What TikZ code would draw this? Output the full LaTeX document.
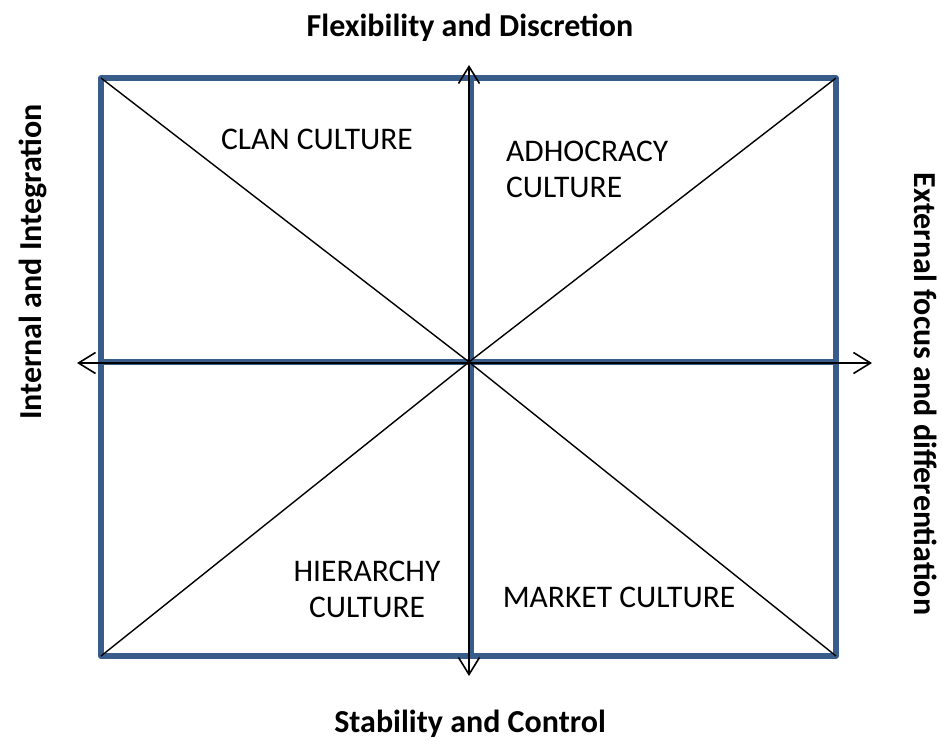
\documentclass[tikz,border=0pt]{standalone}
\usepackage{fontspec}
\setmainfont{Carlito}
\usetikzlibrary{arrows.meta}
\definecolor{boxblue}{HTML}{385D8A}
\begin{document}
\begin{tikzpicture}[x=1pt,y=-1pt,
  frame/.style={draw=boxblue,line width=5.5pt,line cap=rect,line join=round},
  axis/.style={draw=black,line width=2pt,{Straight Barb[length=17pt,width=21pt,line width=1.6pt]}-{Straight Barb[length=17pt,width=21pt,line width=1.6pt]}},
  diag/.style={draw=black,line width=1.4pt},
  qlabel/.style={font=\fontsize{31.5}{36}\selectfont,inner sep=0pt},
  alabel/.style={font=\fontsize{32}{36}\selectfont\bfseries,inner sep=0pt,anchor=base}]
\useasboundingbox (0,0) rectangle (942,740);
\coordinate (tl) at (101,78);
\coordinate (tr) at (836,78);
\coordinate (bl) at (101,656);
\coordinate (br) at (836,656);
\coordinate (c) at (469,362);
\coordinate (vt) at (471,78);
\coordinate (vb) at (471,656);
\coordinate (hl) at (101,362);
\coordinate (hr) at (836,362);
\coordinate (at) at (469,65);
\coordinate (ab) at (469,676);
\coordinate (al) at (77,363);
\coordinate (ar) at (872,363);
\draw[frame] (tl) rectangle (br);
\draw[frame] (vt) -- (vb);
\draw[frame] (hl) -- (hr);
\draw[diag] (tl) -- (c) -- (br);
\draw[diag] (tr) -- (c) -- (bl);
\draw[axis] (ab) -- (at);
\draw[axis] (al) -- (ar);
\node[qlabel,anchor=base] (clan) at (317,149) {CLAN CULTURE};
\node[qlabel,anchor=base west] (adh1) at (506,161) {ADHOCRACY};
\node[qlabel,anchor=base west] (adh2) at (506,197) {CULTURE};
\node[qlabel,anchor=base] (hier1) at (367,581) {HIERARCHY};
\node[qlabel,anchor=base] (hier2) at (367,617) {CULTURE};
\node[qlabel,anchor=base] (mkt) at (619,607) {MARKET CULTURE};
\node[alabel] (top) at (470,36) {Flexibility and Discretion};
\node[alabel] (bot) at (470,732) {Stability and Control};
\node[alabel,rotate=90] (lft) at (41,262) {Internal and Integration};
\node[alabel,rotate=-90] (rgt) at (914,394) {External focus and differentiation};
\end{tikzpicture}
\end{document}
